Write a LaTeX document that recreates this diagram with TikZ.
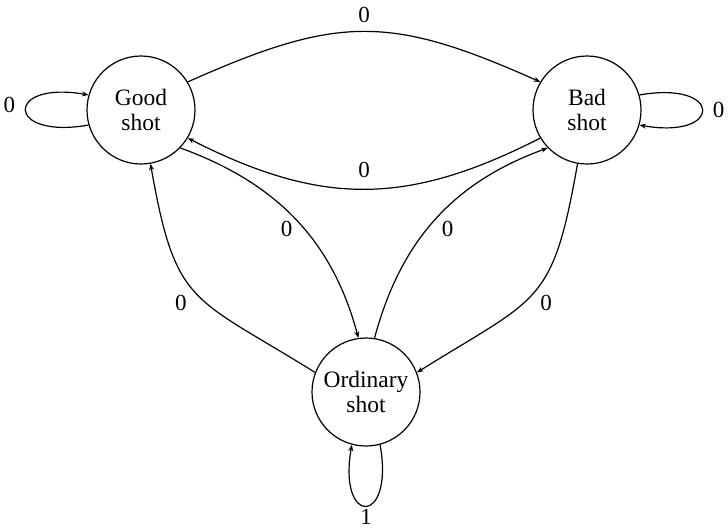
\documentclass[tikz,border=0pt]{standalone}
\usepackage{fontspec}
\setmainfont{Liberation Serif}
\usetikzlibrary{arrows.meta}
\begin{document}
\begin{tikzpicture}[x=1pt,y=1pt,
  state/.style={circle, draw, line width=1.2pt, minimum size=108pt, inner sep=0pt, align=center, font=\fontsize{23.5}{25}\selectfont},
  lbl/.style={inner sep=0pt, font=\fontsize{23}{25}\selectfont},
  edge/.style={line width=1.2pt, -{Stealth[length=6.5pt,width=5pt]}}]
\useasboundingbox (0,0) rectangle (728,-531);
\node[state] (G) at (141,-110) {Good\\shot};
\node[state] (B) at (587,-110) {Bad\\shot};
\node[state] (O) at (366,-392) {Ordinary\\shot};
\draw[edge] (G.31) to[out=24,in=156,looseness=1.2] node[lbl,above=8pt] (l1) {0} (B.149);
\draw[edge] (B.211) to[out=207,in=-27,looseness=1.09] node[lbl,above=11pt] (l2) {0} (G.329);
\draw[edge] (G.-44.3) to[out=-20,in=105] node[lbl,pos=0.55,left=11pt] (l3) {0} (O.98.3);
\draw[edge] (O.81.7) to[out=75,in=200] node[lbl,pos=0.45,right=14pt] (l4) {0} (B.224.3);
\draw[edge] (O.159) to[out=148,in=280,looseness=1.4] node[lbl,pos=0.43,left=19pt] (l5) {0} (G.-80.7);
\draw[edge] (B.260.7) to[out=-100,in=32,looseness=1.4] node[lbl,pos=0.57,right=16pt] (l6) {0} (O.21);
\draw[edge] (G.196) .. controls +(190:85) and +(170:85) .. (G.164) node[lbl,pos=0.5,left=10pt,yshift=5pt] (l7) {0};
\draw[edge] (B.16) .. controls +(10:85) and +(-10:85) .. (B.-16) node[lbl,pos=0.5,right=10pt] (l8) {0};
\draw[edge] (O.-75) .. controls +(-80:83) and +(-100:83) .. (O.-105) node[lbl,pos=0.5,below=3pt] (l9) {1};
\end{tikzpicture}
\end{document}
